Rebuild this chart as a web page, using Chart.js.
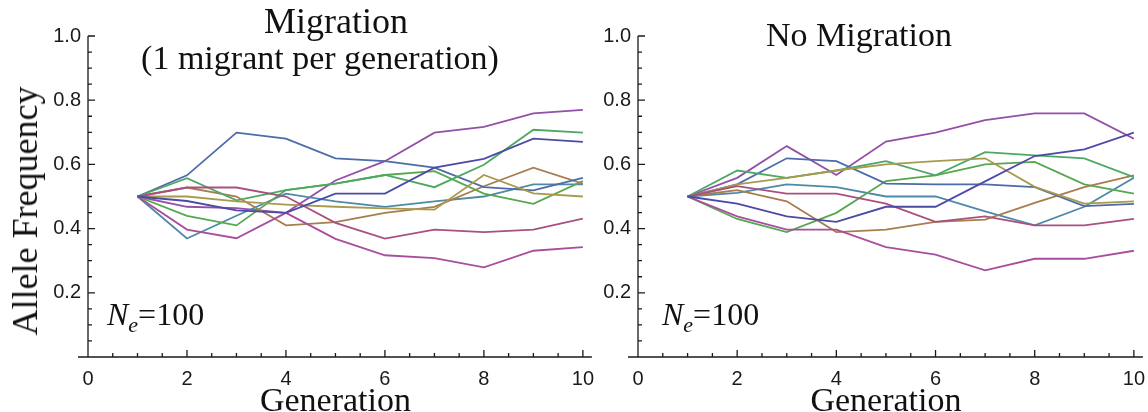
<!DOCTYPE html>
<html>
<head>
<meta charset="utf-8">
<script src="https://cdn.jsdelivr.net/npm/chart.js@4.4.1/dist/chart.umd.min.js"></script>
<style>
  body { margin: 0; background: #fff; }
  #wrap { position: relative; width: 1148px; height: 412px; overflow: hidden;
          font-family: "Liberation Serif", "Times New Roman", serif; color: #111; }
  canvas { position: absolute; top: 0; }
  .txt { position: absolute; white-space: nowrap; font-size: 34px; line-height: 34px; z-index: 2; }
  .center { transform: translateX(-50%); }
  .ytitle { font-size: 36px; line-height: 36px; transform: translate(-50%, -50%) rotate(-90deg); }
  .ne { font-size: 32px; line-height: 32px; }
  .ne sub { font-size: 22px; font-style: italic; vertical-align: -7px; line-height: 0; }
</style>
</head>
<body>
<div id="wrap">
  <canvas id="migChart"></canvas>
  <canvas id="noMigChart"></canvas>

  <div class="txt center" style="left:336px; top:4px; font-size:36px;">Migration</div>
  <div class="txt center" style="left:320px; top:41px;">(1 migrant per generation)</div>
  <div class="txt center" style="left:859px; top:18px;">No Migration</div>
  <div class="txt ytitle" style="left:25px; top:211px;">Allele Frequency</div>
  <div class="txt ne" style="left:107px; top:298px;"><i>N</i><sub>e</sub>=100</div>
  <div class="txt ne" style="left:662px; top:298px;"><i>N</i><sub>e</sub>=100</div>
</div>

<script>
// generations on the x axis
const generations = [1, 2, 3, 4, 5, 6, 7, 8, 9, 10];

const xTickValues = [0, 2, 4, 6, 8, 10];
const xTickLabels = ['0', '2', '4', '6', '8', '10'];
const yTickValues = [0.2, 0.4, 0.6, 0.8, 1.0];
const yTickLabels = ['0.2', '0.4', '0.6', '0.8', '1.0'];

const lineColors = [
  '#4d4aa6', '#a8507f', '#a89a4d', '#4ea865', '#4d6ba8',
  '#a84e9f', '#a87d4e', '#55a84e', '#4e89a8', '#944fa8'
];

// allele frequency per replicate, with one migrant per generation
const migrationRuns = [
  [0.5, 0.486, 0.457, 0.449, 0.509, 0.509, 0.590, 0.617, 0.680, 0.670],
  [0.5, 0.528, 0.528, 0.500, 0.418, 0.369, 0.397, 0.389, 0.397, 0.431],
  [0.5, 0.500, 0.485, 0.475, 0.468, 0.463, 0.459, 0.567, 0.510, 0.500],
  [0.5, 0.557, 0.488, 0.520, 0.540, 0.567, 0.529, 0.599, 0.708, 0.699],
  [0.5, 0.566, 0.699, 0.680, 0.619, 0.610, 0.590, 0.529, 0.519, 0.558],
  [0.5, 0.397, 0.370, 0.449, 0.368, 0.317, 0.308, 0.279, 0.331, 0.342],
  [0.5, 0.528, 0.500, 0.410, 0.420, 0.449, 0.468, 0.532, 0.590, 0.540],
  [0.5, 0.440, 0.410, 0.520, 0.540, 0.567, 0.579, 0.509, 0.477, 0.548],
  [0.5, 0.369, 0.440, 0.509, 0.485, 0.468, 0.485, 0.500, 0.538, 0.538],
  [0.5, 0.468, 0.464, 0.449, 0.550, 0.610, 0.699, 0.717, 0.759, 0.770]
];

// allele frequency per replicate, isolated populations
const isolatedRuns = [
  [0.5, 0.478, 0.438, 0.421, 0.468, 0.468, 0.547, 0.626, 0.647, 0.699],
  [0.5, 0.532, 0.509, 0.509, 0.478, 0.421, 0.438, 0.410, 0.410, 0.430],
  [0.5, 0.538, 0.558, 0.581, 0.600, 0.610, 0.619, 0.530, 0.478, 0.485],
  [0.5, 0.581, 0.558, 0.581, 0.610, 0.566, 0.638, 0.628, 0.619, 0.560],
  [0.5, 0.538, 0.619, 0.610, 0.540, 0.538, 0.538, 0.529, 0.470, 0.477],
  [0.5, 0.438, 0.397, 0.397, 0.342, 0.319, 0.270, 0.306, 0.306, 0.331],
  [0.5, 0.520, 0.485, 0.389, 0.397, 0.421, 0.428, 0.480, 0.529, 0.566],
  [0.5, 0.430, 0.389, 0.449, 0.548, 0.566, 0.600, 0.608, 0.538, 0.509],
  [0.5, 0.511, 0.538, 0.529, 0.500, 0.500, 0.454, 0.410, 0.468, 0.558],
  [0.5, 0.558, 0.657, 0.567, 0.671, 0.699, 0.738, 0.759, 0.759, 0.680]
];

// left and bottom frame lines with inward-pointing ticks
const frameAxes = {
  id: 'frameAxes',
  afterDraw(chart) {
    const { ctx, scales: { x, y } } = chart;
    const x0 = x.getPixelForValue(0);
    const y0 = y.getPixelForValue(0);
    ctx.save();
    ctx.strokeStyle = '#1a1a1a';
    ctx.lineWidth = 1.3;
    ctx.beginPath();
    ctx.moveTo(x0 - 10, y0);
    ctx.lineTo(x.getPixelForValue(10) + 9, y0);
    ctx.moveTo(x0, y0);
    ctx.lineTo(x0, y.getPixelForValue(1));
    for (let v = 0.5; v <= 10; v += 0.5) {
      const px = x.getPixelForValue(v);
      const len = v % 2 === 0 ? 7 : 4;
      ctx.moveTo(px, y0);
      ctx.lineTo(px, y0 - len);
    }
    for (let i = 1; i <= 20; i++) {
      const py = y.getPixelForValue(i * 0.05);
      const len = i % 4 === 0 ? 7 : 4;
      ctx.moveTo(x0, py);
      ctx.lineTo(x0 + len, py);
    }
    ctx.stroke();
    ctx.restore();
  }
};

function labelFor(values, labels, v) {
  const i = values.findIndex(t => Math.abs(t - v) < 1e-6);
  return i >= 0 ? labels[i] : '';
}

function makeChart(canvasId, left, width, yAxisWidth, runs) {
  const canvas = document.getElementById(canvasId);
  canvas.style.left = left + 'px';
  canvas.width = width;
  canvas.height = 412;
  canvas.style.width = width + 'px';
  canvas.style.height = '412px';

  return new Chart(canvas.getContext('2d'), {
    type: 'line',
    data: {
      datasets: runs.map((run, i) => ({
        data: run.map((f, j) => ({ x: generations[j], y: f })),
        borderColor: lineColors[i],
        borderWidth: 1.8,
        pointRadius: 0,
        tension: 0,
        fill: false
      }))
    },
    options: {
      responsive: false,
      animation: false,
      layout: { padding: { top: 36, right: 0, left: 0, bottom: 0 } },
      plugins: { legend: { display: false }, tooltip: { enabled: false } },
      scales: {
        x: {
          type: 'linear',
          min: 0,
          max: 10,
          grid: { display: false, drawTicks: false },
          border: { display: false },
          ticks: {
            stepSize: 2,
            padding: 10,
            color: '#1a1a1a',
            maxRotation: 0,
            font: { family: '"Liberation Sans", Arial, sans-serif', size: 20 },
            callback: v => labelFor(xTickValues, xTickLabels, v)
          },
          title: {
            display: true,
            text: 'Generation',
            color: '#111',
            padding: { top: 0, bottom: -7 },
            font: { family: '"Liberation Serif", serif', size: 34, lineHeight: 1 }
          },
          afterFit: scale => { scale.height = 55; }
        },
        y: {
          min: 0,
          max: 1,
          grid: { display: false, drawTicks: false },
          border: { display: false },
          ticks: {
            stepSize: 0.2,
            padding: 7,
            color: '#1a1a1a',
            font: { family: '"Liberation Sans", Arial, sans-serif', size: 20 },
            callback: v => labelFor(yTickValues, yTickLabels, v)
          },
          afterFit: scale => { scale.width = yAxisWidth; }
        }
      }
    },
    plugins: [frameAxes]
  });
}

makeChart('migChart', 0, 604, 88, migrationRuns);
makeChart('noMigChart', 600, 555, 38, isolatedRuns);
</script>
</body>
</html>
